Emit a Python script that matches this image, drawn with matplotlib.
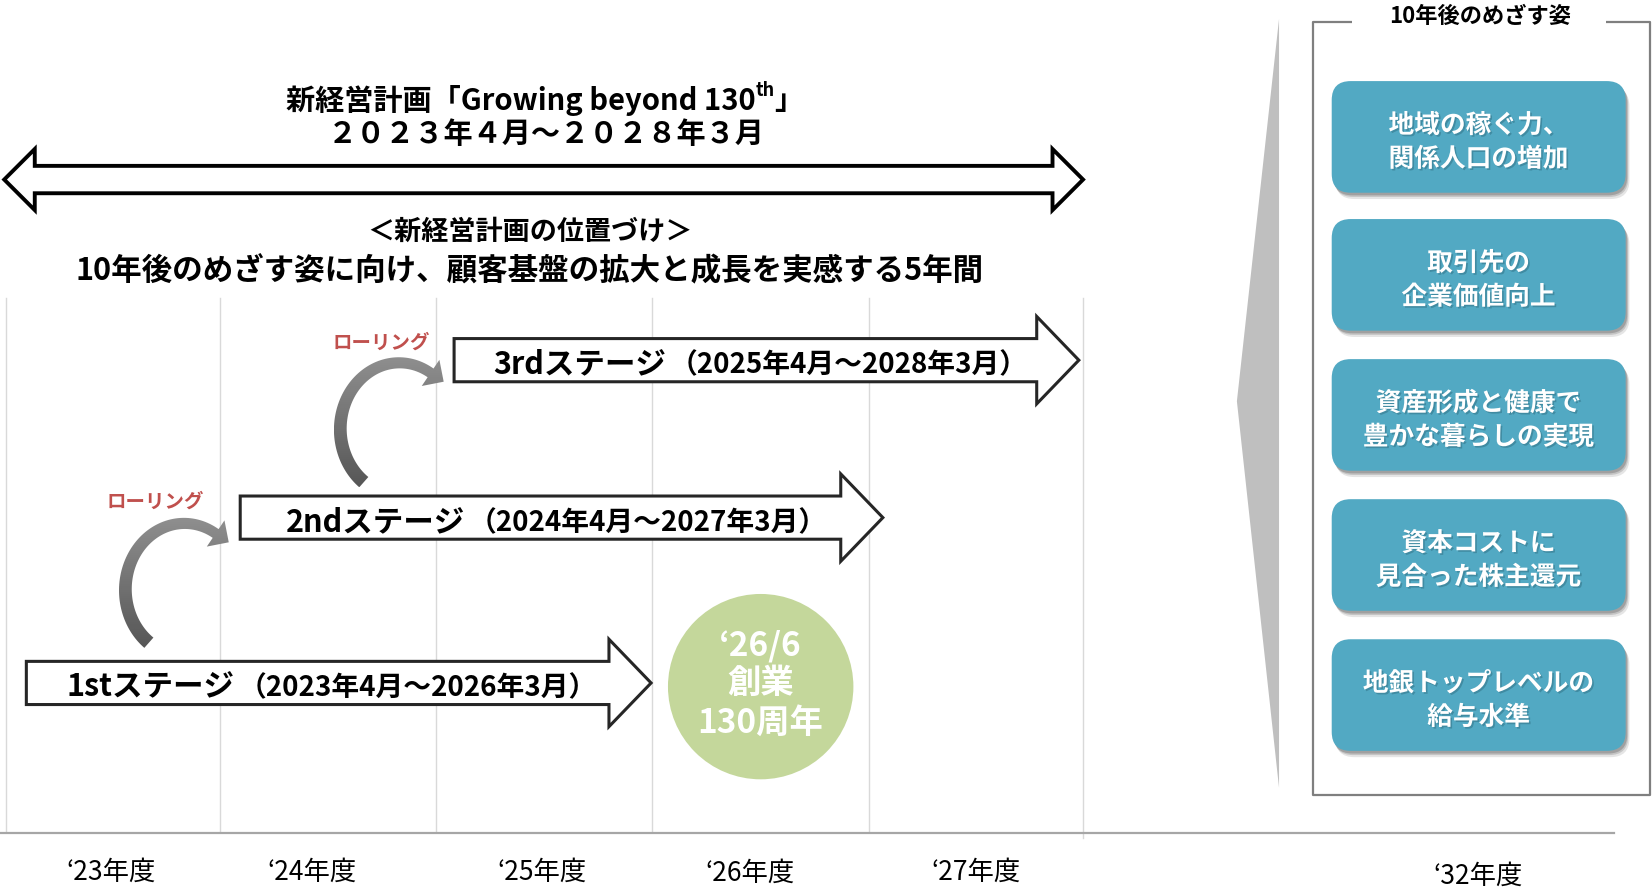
import numpy as np
import matplotlib
matplotlib.use('Agg')
import matplotlib.pyplot as plt
from matplotlib.patches import Polygon, Circle, FancyBboxPatch
import matplotlib.patheffects as pe

plt.rcParams['font.family'] = ['Noto Sans CJK JP', 'DejaVu Sans']

# ---- content ----
plan_title = '新経営計画「Growing beyond 130'
plan_title_sup = 'th'
plan_title_end = '」'
plan_period = '２０２３年４月～２０２８年３月'
position_title = '＜新経営計画の位置づけ＞'
position_text = '10年後のめざす姿に向け、顧客基盤の拡大と成長を実感する5年間'

stage_names = ['1stステージ', '2ndステージ', '3rdステージ']
stage_periods = ['（2023年4月～2026年3月）', '（2024年4月～2027年3月）', '（2025年4月～2028年3月）']
rolling_label = 'ローリング'

anniv_lines = ['‘26/6', '創業', '130周年']

year_labels = ['‘23年度', '‘24年度', '‘25年度', '‘26年度', '‘27年度', '‘32年度']

goal_title = '10年後のめざす姿'
goals = [
    ['地域の稼ぐ力、', '関係人口の増加'],
    ['取引先の', '企業価値向上'],
    ['資産形成と健康で', '豊かな暮らしの実現'],
    ['資本コストに', '見合った株主還元'],
    ['地銀トップレベルの', '給与水準'],
]

# ---- layout (units = reference pixels at 1568 wide) ----
W, H = 1568, 847
grid_x = [6, 209, 414, 619, 825, 1028]
year_label_x = [105, 296, 514, 712, 926, 1403]
year_label_y = [828, 828, 828, 829, 828, 832]
stage_x0 = [25, 228, 431]
stage_tip = [618, 838, 1024]
stage_y = [648.5, 491.5, 342]
stage_text_x = [63, 271, 468]
rolling_centers = [(175, 560), (379, 407.5)]
rolling_text = [(147, 477), (362, 326)]
goal_tops = [77, 208, 341, 474, 607]

fig = plt.figure(figsize=(16.52, 8.92), dpi=100)
ax = fig.add_axes([0, 0, 1, 1])
ax.axis('off')

# timeline grid + base line
for i, gx in enumerate(grid_x):
    y1 = 796 if i == len(grid_x) - 1 else 790
    ax.plot([gx, gx], [283, y1], color='#d9d9d9', lw=1, zorder=0)
ax.plot([0, 1532], [791, 791], color='#a6a6a6', lw=1.6, zorder=1)

# double arrow for the whole plan
def double_arrow(x0, x1, yc, sh=13, hh=29, hl=29):
    return [(x0, yc), (x0 + hl, yc - hh), (x0 + hl, yc - sh), (x1 - hl, yc - sh),
            (x1 - hl, yc - hh), (x1, yc), (x1 - hl, yc + hh), (x1 - hl, yc + sh),
            (x0 + hl, yc + sh), (x0 + hl, yc + hh)]

ax.add_patch(Polygon(double_arrow(4, 1028, 170.5), closed=True, facecolor='white',
                     edgecolor='black', lw=2.8, joinstyle='miter', zorder=2))

# title composite (superscript "th")
t1 = ax.text(0, 95, plan_title, fontsize=21, fontweight='bold', ha='left', va='center')
t2 = ax.annotate(plan_title_sup, xy=(1, 0.82), xycoords=t1, fontsize=13,
                 fontweight='bold', ha='left', va='center')
t3 = ax.annotate(plan_title_end, xy=(1, 0.5), xycoords=(t2, t1), fontsize=21,
                 fontweight='bold', ha='left', va='center')
ax.text(518, 127, plan_period, fontsize=21, fontweight='bold', ha='center', va='center')
ax.text(503, 220, position_title, fontsize=19.5, fontweight='bold', ha='center', va='center')
ax.text(503, 258, position_text, fontsize=22, fontweight='bold', ha='center', va='center')

# stage block arrows
def block_arrow(x0, x1, yc, sh=20.5, hh=41.5, hl=40):
    return [(x0, yc - sh), (x1 - hl, yc - sh), (x1 - hl, yc - hh), (x1, yc),
            (x1 - hl, yc + hh), (x1 - hl, yc + sh), (x0, yc + sh)]

for name, period, x0, tip, yc, tx in zip(stage_names, stage_periods, stage_x0,
                                         stage_tip, stage_y, stage_text_x):
    ax.add_patch(Polygon(block_arrow(x0, tip, yc), closed=True, facecolor='white',
                         edgecolor='#262626', lw=2.2, joinstyle='miter', zorder=3))
    tn = ax.text(tx, yc + 4, name, fontsize=22, fontweight='bold', ha='left',
                 va='center', zorder=4)
    ax.annotate(period, xy=(1, 0.47), xycoords=tn, xytext=(3, 0),
                textcoords='offset points', fontsize=20, fontweight='bold',
                ha='left', va='center', zorder=4)

# curved "rolling" arrows with grey gradient
def curved_arrow(cx, cy, rx=56, ry=63, t0=233, t1=58, w0=13, w1=10, head_w=30, head_l=15):
    t = np.radians(np.linspace(t0, t1, 80))
    xs = cx + rx * np.cos(t)
    ys = cy - ry * np.sin(t)
    dx, dy = np.gradient(xs), np.gradient(ys)
    n = np.hypot(dx, dy)
    dx, dy = dx / n, dy / n
    nx, ny = dy, -dx
    hw = np.linspace(w0, w1, len(t)) / 2
    outer = np.column_stack([xs + nx * hw, ys + ny * hw])
    inner = np.column_stack([xs - nx * hw, ys - ny * hw])
    bx, by = xs[-1], ys[-1]
    head = [(bx + nx[-1] * head_w / 2, by + ny[-1] * head_w / 2),
            (bx + dx[-1] * head_l, by + dy[-1] * head_l),
            (bx - nx[-1] * head_w / 2, by - ny[-1] * head_w / 2)]
    return np.vstack([outer, head, inner[::-1]])

for (cx, cy), (lx, ly) in zip(rolling_centers, rolling_text):
    pts = curved_arrow(cx, cy)
    poly = Polygon(pts, closed=True, facecolor='none', edgecolor='none')
    ax.add_patch(poly)
    xmin, ymin = pts.min(axis=0)
    xmax, ymax = pts.max(axis=0)
    grad = np.linspace(0.56, 0.34, 64).reshape(-1, 1)
    im = ax.imshow(grad, cmap='gray', vmin=0, vmax=1, aspect='auto',
                   extent=[xmin, xmax, ymax, ymin], interpolation='bilinear', zorder=3)
    im.set_clip_path(poly)
    ax.text(lx, ly, rolling_label, fontsize=14, fontweight='bold', color='#c0504d',
            ha='center', va='center', zorder=4)

# 130th anniversary circle
ax.add_patch(Circle((722, 652), 88, facecolor='#c4d79b', edgecolor='none', zorder=2))
for line, ly in zip(anniv_lines, [613, 649, 687]):
    ax.text(722, ly, line, fontsize=24, fontweight='bold', color='white',
            ha='center', va='center', zorder=3)

# year labels
for lab, x, y in zip(year_labels, year_label_x, year_label_y):
    ax.text(x, y, lab, fontsize=19, ha='center', va='center', color='black')

# right side: wedge + framed goals
ax.add_patch(Polygon([(1214, 18), (1174, 381), (1214, 748)], closed=True,
                     facecolor='#bfbfbf', edgecolor='none', zorder=1))
frame = dict(color='#7f7f7f', lw=1.6, solid_capstyle='butt', zorder=2)
ax.plot([1283, 1246, 1246, 1566, 1566, 1524], [21, 21, 755, 755, 21, 21], **frame)
ax.text(1405, 16, goal_title, fontsize=16, fontweight='bold', ha='center',
        va='center', zorder=3)

for lines, top in zip(goals, goal_tops):
    for k, a in [(6, 0.10), (4, 0.14), (2.5, 0.18)]:
        ax.add_patch(FancyBboxPatch((1264 + k * 0.6, top + k), 279, 106,
                                    boxstyle='round,pad=0,rounding_size=18',
                                    facecolor='black', edgecolor='none', alpha=a, zorder=2))
    ax.add_patch(FancyBboxPatch((1264, top), 279, 106,
                                boxstyle='round,pad=0,rounding_size=18',
                                facecolor='#52a9c3', edgecolor='none', zorder=3))
    yc = top + 53
    for line, dy in zip(lines, [-11, 21]):
        ax.text(1403.5, yc + dy, line, fontsize=18.5, fontweight='bold', color='white',
                ha='center', va='center', zorder=4,
                path_effects=[pe.withSimplePatchShadow(offset=(1.2, -1.2),
                                                      shadow_rgbFace='#2f6f82', alpha=0.5)])

ax.set_xlim(0, W)
ax.set_ylim(H, 0)

# centre the composite title over the plan arrow
fig.canvas.draw()
r = fig.canvas.get_renderer()
b1 = t1.get_window_extent(r)
b3 = t3.get_window_extent(r)
inv = ax.transData.inverted()
left = inv.transform((b1.x0, 0))[0]
right = inv.transform((b3.x1, 0))[0]
t1.set_x(517 - (right - left) / 2)

fig.savefig('out.png', dpi=100, facecolor='white')
